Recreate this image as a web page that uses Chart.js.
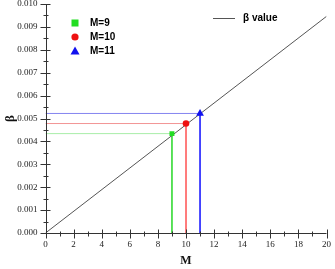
<!DOCTYPE html>
<html><head><meta charset="utf-8">
<script src="https://cdn.jsdelivr.net/npm/chart.js@4"></script>
<style>html,body{margin:0;padding:0;background:#fff}#wrap{width:335px;height:269px}</style>
</head><body><div id="wrap"><canvas id="c" width="335" height="269"></canvas></div>
<script>
const mValues = [9, 10, 11];
const betaAtM = [0.00434, 0.00478, 0.00522];
const seriesLabels = ['M=9', 'M=10', 'M=11'];
const lineM = [0, 20];
const lineBeta = [0, 0.00946];
const lineLabel = 'β value';
const xTickValues = [0, 2, 4, 6, 8, 10, 12, 14, 16, 18, 20];
const yTickValues = [0, 0.001, 0.002, 0.003, 0.004, 0.005, 0.006, 0.007, 0.008, 0.009, 0.010];
const xTitle = 'M';
const yTitle = 'β';

const pointColors = ['#22dd22', '#ee1111', '#1111ee'];
const hColors = ['#a8eea8', '#f29494', '#8484f0'];
const vColors = ['#44dd44', '#ff6a6a', '#3030ff'];
const pointStyles = ['rect', 'circle', 'triangle'];
const pointRadii = [3.5, 3.3, 4.5];

const datasets = [];
mValues.forEach((m, i) => {
  datasets.push({
    label: seriesLabels[i] + ' guide',
    data: [{x: 0, y: betaAtM[i]}, {x: m, y: betaAtM[i]}, {x: m, y: 0}],
    showLine: true, pointRadius: 0, borderWidth: 1,
    borderColor: vColors[i],
    segment: { borderColor: ctx => ctx.p0DataIndex === 0 ? hColors[i] : vColors[i] },
    order: 3
  });
});
datasets.push({
  label: lineLabel,
  data: lineM.map((m, i) => ({x: m, y: lineBeta[i]})),
  showLine: true, pointRadius: 0, borderWidth: 1, borderColor: '#555555', order: 2
});
mValues.forEach((m, i) => {
  datasets.push({
    label: seriesLabels[i],
    data: [{x: m, y: betaAtM[i]}],
    pointStyle: pointStyles[i], pointRadius: pointRadii[i],
    backgroundColor: pointColors[i], borderColor: pointColors[i], borderWidth: 0, order: 1
  });
});

const tickPlugin = {
  id: 'crossTicks',
  afterDraw(chart) {
    const c = chart.ctx, xs = chart.scales.x, ys = chart.scales.y;
    const a = chart.chartArea;
    const ax = Math.round(a.left) + 0.5, ay = Math.round(a.bottom) + 0.5;
    c.save();
    c.strokeStyle = '#333'; c.lineWidth = 1;
    c.beginPath();
    c.moveTo(ax, a.top); c.lineTo(ax, ay);
    c.lineTo(a.right, ay); c.stroke();
    for (let v = 0; v <= 20; v += 1) {
      const px = Math.round(xs.getPixelForValue(v)) + 0.5;
      const major = v % 2 === 0;
      c.beginPath();
      c.moveTo(px, ay - (major ? 4 : 2));
      c.lineTo(px, ay + (major ? 5 : 3));
      c.stroke();
    }
    for (let k = 0; k <= 20; k += 1) {
      const v = k * 0.0005;
      const py = Math.round(ys.getPixelForValue(v)) + 0.5;
      const major = k % 2 === 0;
      c.beginPath();
      c.moveTo(ax - (major ? 6 : 3), py);
      c.lineTo(ax + (major ? 4 : 2), py);
      c.stroke();
    }
    c.font = 'bold 10px "Liberation Sans", Arial, sans-serif';
    c.textBaseline = 'middle'; c.textAlign = 'left'; c.fillStyle = '#000';
    const ly = [23, 37, 51];
    seriesLabels.forEach((t, i) => {
      const x = 75, y = ly[i];
      c.fillStyle = pointColors[i];
      c.beginPath();
      if (pointStyles[i] === 'rect') { c.fillRect(x - 3.5, y - 3.5, 7, 7); }
      else if (pointStyles[i] === 'circle') { c.arc(x, y, 3.6, 0, Math.PI * 2); c.fill(); }
      else { c.moveTo(x, y - 4.5); c.lineTo(x + 4.5, y + 3.5); c.lineTo(x - 4.5, y + 3.5); c.closePath(); c.fill(); }
      c.fillStyle = '#000';
      c.fillText(t, 90, y + 0.5);
    });
    c.strokeStyle = '#555';
    c.beginPath(); c.moveTo(213, 18.5); c.lineTo(235, 18.5); c.stroke();
    c.fillStyle = '#000';
    c.fillText(lineLabel, 243, 18.5);
    c.restore();
  }
};

new Chart(document.getElementById('c'), {
  type: 'scatter',
  data: { datasets },
  options: {
    responsive: false, animation: false, devicePixelRatio: 1,
    layout: { autoPadding: false, padding: { top: 4, right: 8.5, left: 0, bottom: 0 } },
    plugins: { legend: { display: false }, tooltip: { enabled: false } },
    scales: {
      x: {
        type: 'linear', min: 0, max: 20,
        afterFit(s) { s.height = 36; s.paddingLeft = 0; s.paddingRight = 0; },
        afterBuildTicks(s) { s.ticks = xTickValues.map(v => ({value: v})); },
        grid: { display: false, drawTicks: false },
        border: { display: false },
        ticks: { padding: 6, color: '#222', font: { family: '"Liberation Serif", "Times New Roman", serif', size: 9 }, maxRotation: 0, callback: v => String(v) },
        title: { display: true, text: xTitle, color: '#111', padding: { top: 0, bottom: 1 }, font: { family: '"Liberation Serif", serif', size: 12, weight: 'bold' } }
      },
      y: {
        type: 'linear', min: 0, max: 0.010,
        afterFit(s) { s.width = 45.5; s.paddingTop = 0; s.paddingBottom = 0; },
        afterBuildTicks(s) { s.ticks = yTickValues.map(v => ({value: v})); },
        grid: { display: false, drawTicks: false },
        border: { display: false },
        ticks: { padding: 8, color: '#222', font: { family: '"Liberation Serif", "Times New Roman", serif', size: 9 }, callback: v => v.toFixed(3) },
        title: { display: true, text: yTitle, color: '#111', padding: { top: 3, bottom: 0 }, font: { family: '"Liberation Serif", serif', size: 13, weight: 'bold' } }
      }
    }
  },
  plugins: [tickPlugin]
});
</script></body></html>
